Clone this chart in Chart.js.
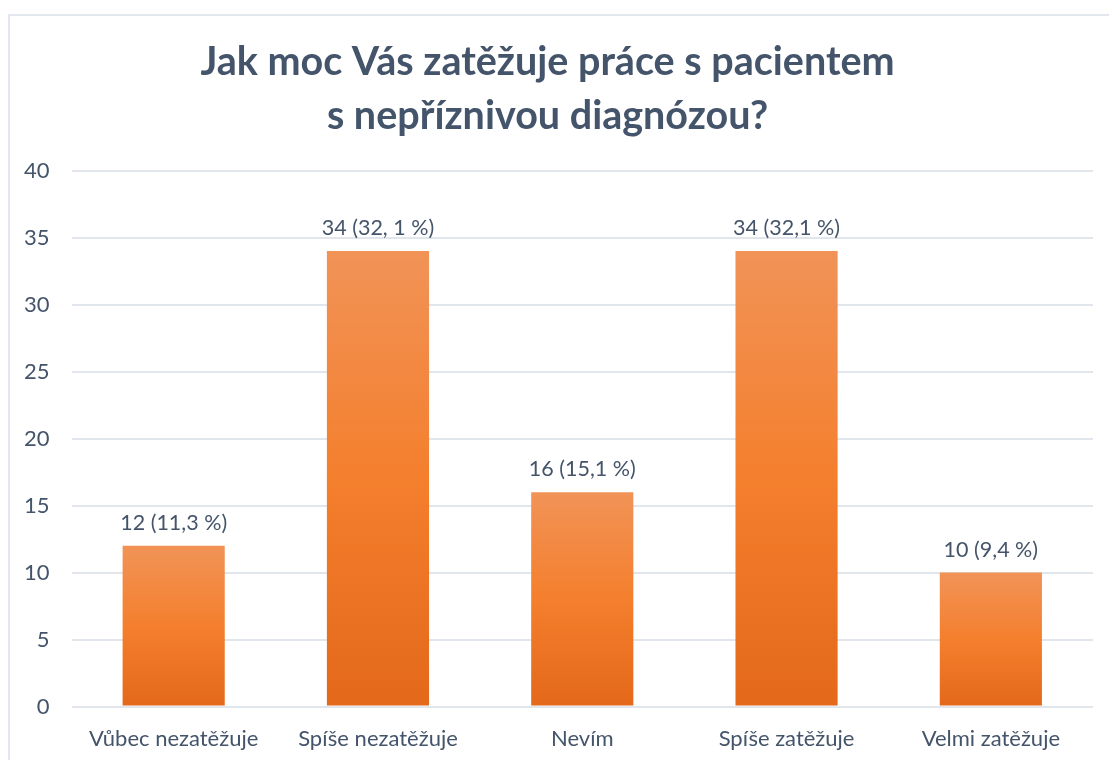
<!DOCTYPE html>
<html>
<head>
<meta charset="utf-8">
<script src="https://cdn.jsdelivr.net/npm/chart.js@4.4.0/dist/chart.umd.min.js"></script>
<style>
  html, body { margin: 0; padding: 0; background: #fff; overflow: hidden; }
  #frame { position: absolute; left: 8px; top: 14px; width: 1200px; height: 900px;
           border-left: 2px solid #E3E7EE; border-top: 2px solid #E3E7EE; }
  #wrap { position: absolute; left: 0; top: 0; width: 1109px; height: 760px; }
</style>
</head>
<body>
<div id="frame"></div>
<div id="wrap"><canvas id="c" width="1109" height="760"></canvas></div>
<script>
const categories = ["Vůbec nezatěžuje", "Spíše nezatěžuje", "Nevím", "Spíše zatěžuje", "Velmi zatěžuje"];
const counts = [12, 34, 16, 34, 10];
const valueLabels = ["12 (11,3 %)", "34 (32, 1 %)", "16 (15,1 %)", "34 (32,1 %)", "10 (9,4 %)"];
const titleLines = ["Jak moc Vás zatěžuje práce s pacientem", "s nepříznivou diagnózou?"];
const yMin = 0, yMax = 40, yStep = 5;

const textColor = "#44546A";
const gridColor = "#E1E5EC";

function barGradient(context) {
  const chart = context.chart;
  const ys = chart.scales && chart.scales.y;
  if (!chart.chartArea || !ys || context.parsed === undefined) return "#F47F2F";
  const top = ys.getPixelForValue(context.parsed.y);
  const base = ys.getPixelForValue(0);
  const g = chart.ctx.createLinearGradient(0, top, 0, base);
  g.addColorStop(0, "#F19357");
  g.addColorStop(0.5, "#F47F2D");
  g.addColorStop(1, "#E4681A");
  return g;
}

const valueLabelPlugin = {
  id: "valueLabels",
  afterDatasetsDraw(chart) {
    const ctx = chart.ctx;
    const meta = chart.getDatasetMeta(0);
    ctx.save();
    ctx.font = "21.5px Lato";
    ctx.fillStyle = textColor;
    ctx.textAlign = "center";
    ctx.textBaseline = "middle";
    meta.data.forEach((el, i) => {
      ctx.fillText(valueLabels[i], el.x, el.y - 23);
    });
    ctx.restore();
  }
};

new Chart(document.getElementById("c"), {
  type: "bar",
  data: {
    labels: categories,
    datasets: [{
      data: counts,
      backgroundColor: barGradient,
      borderWidth: 0,
      categoryPercentage: 0.5,
      barPercentage: 1.0
    }]
  },
  options: {
    responsive: false,
    animation: false,
    layout: { padding: { left: 2, right: 16, top: 36, bottom: -11 } },
    plugins: {
      legend: { display: false },
      tooltip: { enabled: false },
      title: {
        display: true,
        text: titleLines,
        color: textColor,
        font: { family: "Lato", size: 39.5, weight: "bold", lineHeight: 1.35 },
        padding: { top: 0, bottom: 28 }
      }
    },
    scales: {
      x: {
        grid: { display: false, drawTicks: false },
        border: { display: false },
        ticks: { color: textColor, font: { family: "Lato", size: 22, lineHeight: 1.2 }, padding: 19 }
      },
      y: {
        min: yMin, max: yMax,
        ticks: { stepSize: yStep, color: textColor, font: { family: "Lato", size: 22 }, padding: 22 },
        grid: { color: gridColor, lineWidth: 2, drawTicks: false },
        border: { display: false }
      }
    }
  },
  plugins: [valueLabelPlugin]
});
</script>
</body>
</html>
